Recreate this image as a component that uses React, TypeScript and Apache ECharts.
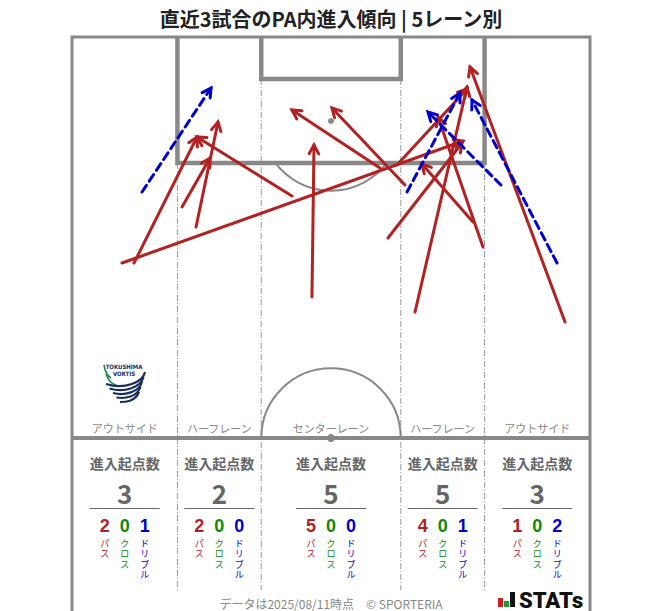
import React, { useEffect, useRef } from "react";
import * as echarts from "echarts";

const TITLE = "直近3試合のPA内進入傾向 | 5レーン別";
const FOOTER = "データは2025/08/11時点　© SPORTERIA";
const laneNames = ["アウトサイド", "ハーフレーン", "センターレーン", "ハーフレーン", "アウトサイド"];
const laneEdges = [0, 13.84, 24.84, 43.16, 54.16, 68];
const laneTotals = [3, 2, 5, 5, 3];
const passCounts = [2, 2, 5, 4, 1];
const crossCounts = [0, 0, 0, 0, 0];
const dribbleCounts = [1, 0, 0, 1, 2];
const typeLabels = ["パス", "クロス", "ドリブル"];

// [startX, startY, endX, endY] in metres (x across pitch, y from goal line)
const passArrows = [
  [8.14, 29.59, 16.41, 13.09],
  [6.56, 29.59, 51.33, 13.62],
  [14.44, 22.26, 18.12, 15.84],
  [16.28, 24.87, 19.17, 11.13],
  [28.88, 20.82, 16.41, 13.09],
  [31.5, 34.04, 31.77, 14.14],
  [40.43, 17.15, 28.88, 9.56],
  [41.48, 26.31, 51.2, 13.88],
  [42.66, 16.76, 51.85, 6.81],
  [43.71, 19.38, 34.13, 9.3],
  [45.03, 36.0, 51.85, 6.55],
  [53.95, 27.49, 48.05, 10.47],
  [52.64, 24.22, 45.95, 16.63],
  [64.72, 37.31, 52.25, 3.93],
];
const crossArrows: number[][] = [];
const dribbleArrows = [
  [9.19, 20.29, 18.25, 6.68],
  [43.98, 20.29, 50.93, 7.33],
  [56.31, 19.38, 46.73, 9.82],
  [63.67, 29.59, 52.51, 8.25],
];

const PITCH_W = 68;
const HALF_L = 52.5;
const Y_MAX = (HALF_L * 574) / 401;
const GRID = { left: 72, top: 37, width: 518, height: 574 };

const RED = "#b22222";
const GREEN = "#0a8a0a";
const BLUE = "#0000cc";
const LINE = "#888888";
const JP = "'Noto Sans CJK JP', 'Noto Sans', sans-serif";
const TIGHT = "'Liberation Sans', 'Noto Sans CJK JP', sans-serif";

const px = (m: number) => GRID.left + (m * GRID.width) / PITCH_W;

function renderPitch(params: any, api: any) {
  const c = (x: number, y: number) => api.coord([x, y]);
  const poly = (pts: number[][], w: number, extra: any = {}) => ({
    type: "polyline",
    shape: { points: pts.map((p) => c(p[0], p[1])) },
    style: { stroke: LINE, lineWidth: w, fill: null, ...extra },
  });
  const pen = c(34, 11);
  const penR = c(34 + 9.15, 11)[0] - pen[0];
  const cen = c(34, HALF_L);
  const ang = Math.asin(5.5 / 9.15);
  const laneBottom = 72.4;
  const dash = { stroke: "#9a9a9a", lineWidth: 1, lineDash: [6, 2, 1, 2] };
  return {
    type: "group",
    children: [
      poly([[13.84, 16.5], [13.84, laneBottom]], 1, dash),
      poly([[54.16, 16.5], [54.16, laneBottom]], 1, dash),
      poly([[24.84, 5.5], [24.84, laneBottom]], 1, dash),
      poly([[43.16, 5.5], [43.16, laneBottom]], 1, dash),
      {
        type: "arc",
        shape: { cx: pen[0], cy: pen[1], r: penR, startAngle: ang, endAngle: Math.PI - ang, clockwise: true },
        style: { stroke: LINE, lineWidth: 2, fill: null },
      },
      {
        type: "arc",
        shape: { cx: cen[0], cy: cen[1], r: penR, startAngle: Math.PI, endAngle: Math.PI * 2, clockwise: true },
        style: { stroke: LINE, lineWidth: 2, fill: null },
      },
      poly([[0, Y_MAX], [0, 0], [PITCH_W, 0], [PITCH_W, Y_MAX]], 3),
      poly([[0, HALF_L], [PITCH_W, HALF_L]], 4),
      poly([[13.84, 0], [13.84, 16.5], [54.16, 16.5], [54.16, 0]], 4.5),
      poly([[24.84, 0], [24.84, 5.5], [43.16, 5.5], [43.16, 0]], 4.5),
      { type: "circle", shape: { cx: pen[0], cy: pen[1], r: 3 }, style: { fill: LINE } },
      { type: "circle", shape: { cx: cen[0], cy: cen[1], r: 4 }, style: { fill: LINE } },
    ],
  };
}

function arrowRenderer(color: string, dash: number[] | null) {
  return (params: any, api: any) => {
    const p1 = api.coord([api.value(0), api.value(1)]);
    const p2 = api.coord([api.value(2), api.value(3)]);
    const a = Math.atan2(p2[1] - p1[1], p2[0] - p1[0]);
    const L = 10;
    const s = 0.5;
    const h1 = [p2[0] - L * Math.cos(a - s), p2[1] - L * Math.sin(a - s)];
    const h2 = [p2[0] - L * Math.cos(a + s), p2[1] - L * Math.sin(a + s)];
    return {
      type: "group",
      children: [
        {
          type: "line",
          shape: { x1: p1[0], y1: p1[1], x2: p2[0], y2: p2[1] },
          style: { stroke: color, lineWidth: 3, lineDash: dash, lineCap: "round" },
        },
        {
          type: "polyline",
          shape: { points: [h1, p2, h2] },
          style: { stroke: color, lineWidth: 3, fill: null, lineCap: "round" },
        },
      ],
    };
  };
}

function buildGraphics() {
  const g: any[] = [];
  const text = (t: string, x: number, y: number, size: number, fill: string, weight = "normal", extra: any = {}) => ({
    type: "text",
    x,
    y,
    style: {
      text: t,
      fill,
      fontSize: size,
      fontWeight: weight,
      fontFamily: JP,
      textAlign: "center",
      textVerticalAlign: "middle",
      ...extra,
    },
  });
  g.push(text(TITLE, 331, 18, 20, "#222", "bold"));
  for (let i = 0; i < 5; i++) {
    const cx = px((laneEdges[i] + laneEdges[i + 1]) / 2);
    g.push(text(laneNames[i], cx, 428, 11, "#888"));
    g.push(text("進入起点数", cx, 463, 14, "#666", "bold"));
    g.push(text(String(laneTotals[i]), cx, 492, 26, "#666", "bold"));
    g.push({
      type: "line",
      shape: { x1: cx - 35, y1: 508.5, x2: cx + 35, y2: 508.5 },
      style: { stroke: "#666", lineWidth: 1 },
    });
    const vals = [passCounts[i], crossCounts[i], dribbleCounts[i]];
    const cols = [RED, GREEN, BLUE];
    for (let k = 0; k < 3; k++) {
      const x = cx - 20 + k * 20;
      g.push(text(String(vals[k]), x, 526, 18, cols[k], "bold", { fontFamily: TIGHT }));
      const chars = typeLabels[k].split("");
      chars.forEach((ch, j) => {
        g.push(text(ch, x, 544 + j * 10.3, 9, cols[k], "normal", { fontFamily: TIGHT, lineHeight: 9 }));
      });
    }
  }
  g.push(text(FOOTER, 331, 603, 12, "#888"));
  // STATs logo
  g.push({ type: "rect", shape: { x: 498, y: 598, width: 5, height: 9 }, style: { fill: "#d11a1a" } });
  g.push({ type: "rect", shape: { x: 504, y: 601, width: 5, height: 6 }, style: { fill: "#1a9a3a" } });
  g.push({ type: "rect", shape: { x: 510, y: 592, width: 5, height: 15 }, style: { fill: "#111" } });
  g.push({
    type: "text",
    x: 519,
    y: 600,
    style: { text: "STATs", fill: "#111", fontSize: 22, fontWeight: 900, fontFamily: "Roboto, sans-serif", textAlign: "left", textVerticalAlign: "middle" },
  });
  // Tokushima Vortis crest (approximation)
  const navy = "#1b2d5e";
  const green = "#1f8a4c";
  g.push(text("TOKUSHIMA", 124, 366, 6, navy, "bold", { fontFamily: "'DejaVu Sans Condensed', sans-serif" }));
  g.push(text("VORTIS", 124, 373, 6, navy, "bold", { fontFamily: "'DejaVu Sans Condensed', sans-serif" }));
  g.push({ type: "bezierCurve", shape: { x1: 104, y1: 365, x2: 111, y2: 378, cpx1: 105, cpy1: 371, cpx2: 107, cpy2: 376 }, style: { stroke: green, lineWidth: 1.6, fill: null } });
  g.push({ type: "bezierCurve", shape: { x1: 106, y1: 374, x2: 116, y2: 385, cpx1: 108, cpy1: 380, cpx2: 112, cpy2: 384 }, style: { stroke: green, lineWidth: 1.6, fill: null } });
  for (let k = 0; k < 5; k++) {
    const y0 = 372 + k * 5;
    g.push({
      type: "bezierCurve",
      shape: { x1: 145 - k * 1.5, y1: y0, x2: 106 + k * 3.5, y2: 384 + k * 4.5, cpx1: 143 - k * 2, cpy1: y0 + 10, cpx2: 125, cpy2: 390 + k * 3 },
      style: { stroke: navy, lineWidth: 2.2, fill: null },
    });
  }
  return g;
}

export default function App() {
  const ref = useRef<HTMLDivElement>(null);
  useEffect(() => {
    if (!ref.current) return;
    const chart = echarts.init(ref.current, null, { renderer: "svg" });
    chart.setOption({
      animation: false,
      backgroundColor: "#ffffff",
      grid: { ...GRID },
      xAxis: { type: "value", min: 0, max: PITCH_W, show: false },
      yAxis: { type: "value", min: 0, max: Y_MAX, inverse: true, show: false },
      series: [
        { type: "custom", name: "pitch", renderItem: renderPitch, data: [[0, 0]], silent: true, clip: false, z: 1 },
        { type: "custom", name: "パス", renderItem: arrowRenderer(RED, null), data: passArrows, silent: true, clip: false, z: 2 },
        { type: "custom", name: "クロス", renderItem: arrowRenderer(GREEN, null), data: crossArrows, silent: true, clip: false, z: 3 },
        { type: "custom", name: "ドリブル", renderItem: arrowRenderer(BLUE, [8, 5]), data: dribbleArrows, silent: true, clip: false, z: 4 },
      ],
      graphic: buildGraphics(),
    });
    return () => chart.dispose();
  }, []);
  return <div ref={ref} style={{ position: "fixed", left: 0, top: 0, width: 663, height: 611 }} />;
}
